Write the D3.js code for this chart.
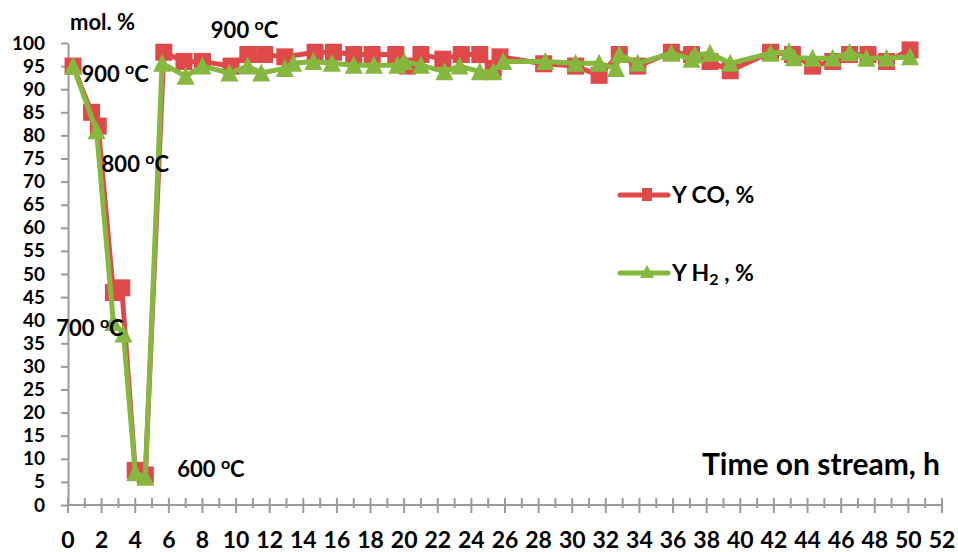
<!DOCTYPE html>
<html>
<head>
<meta charset="utf-8">
<script src="https://cdn.jsdelivr.net/npm/d3@7"></script>
<style>
  html, body { margin: 0; padding: 0; background: #fff; }
  svg text { font-family: Lato, "Open Sans", sans-serif; font-weight: 700; fill: #000; }
</style>
</head>
<body>
<svg id="chart" width="958" height="552"></svg>
<script>
// Yield of CO over time on stream (h)
const coTime  = [0.3, 1.4, 1.8, 2.7, 3.2, 4.0, 4.6, 5.7, 6.9, 8.0, 9.7, 10.7, 11.7, 12.9, 14.7, 15.8, 17.0, 18.1, 19.5, 20.2, 21.0, 22.3, 23.4, 24.5, 25.3, 25.7, 28.3, 30.2, 31.6, 32.8, 33.9, 35.9, 37.1, 38.2, 39.4, 41.8, 43.1, 44.3, 45.5, 46.5, 47.6, 48.7, 50.1];
const coYield = [95, 85, 82, 46, 47, 7.5, 6.5, 98, 96, 96, 95, 97.5, 97.5, 97, 98, 98, 97.5, 97.5, 97.5, 95, 97.5, 96.5, 97.5, 97.5, 94.5, 97, 95.5, 95, 93, 97.5, 95, 98, 97.5, 96, 94, 98, 97.5, 95, 96, 97.5, 97.5, 96, 98.5];

// Yield of H2 over time on stream (h)
const h2Time  = [0.3, 1.7, 2.7, 3.3, 4.0, 4.6, 5.6, 7.0, 8.0, 9.6, 10.7, 11.5, 12.9, 13.4, 14.6, 15.7, 17.0, 18.2, 19.6, 20.0, 21.0, 22.4, 23.3, 24.5, 25.3, 25.9, 28.4, 30.2, 31.6, 32.6, 32.8, 33.9, 35.9, 37.1, 37.3, 38.2, 39.4, 41.8, 42.9, 43.2, 44.3, 45.5, 46.5, 47.5, 48.7, 50.1];
const h2Yield = [95, 81, 39.5, 37, 7, 6, 95.6, 92.8, 95, 93.5, 95, 93.5, 94.5, 95.6, 96, 95.6, 95.2, 95.2, 95.2, 96, 95.2, 93.8, 95, 93.8, 93.8, 96, 96, 95.6, 95.6, 94.5, 97.5, 95.6, 97.8, 96.5, 97.4, 97.8, 95.6, 97.8, 98.1, 96.8, 96.7, 96.7, 97.9, 96.7, 96.7, 97];

const xTicks = d3.range(0, 53, 2);
const yTicks = d3.range(0, 101, 5);

// Temperature annotations: [time, yield, text]
const tempNotes = [
  [0.8, 91.5, "900 "],
  [8.5, 101, "900 "],
  [2.0, 72, "800 "],
  [-0.7, 36.5, "700 "],
  [6.5, 6, "600 "]
];

const series = [
  { name: "CO", time: coTime, values: coYield, color: "#E0494A", marker: "square" },
  { name: "H2", time: h2Time, values: h2Yield, color: "#86B73F", marker: "triangle" }
];

const svg = d3.select("#chart");
const x = d3.scaleLinear().domain([0, 52]).range([68, 942]);
const y = d3.scaleLinear().domain([0, 100]).range([505, 43]);
const axisColor = "#9a9a9a";

// Y axis
const yAxis = svg.append("g").attr("transform", `translate(${x(0)},0)`)
  .call(d3.axisLeft(y).tickValues(yTicks).tickSize(7).tickPadding(16).tickSizeOuter(0));
yAxis.select(".domain").attr("stroke", axisColor).attr("stroke-width", 2);
yAxis.selectAll(".tick line").attr("stroke", axisColor).attr("stroke-width", 2);
yAxis.selectAll(".tick text").style("font-size", "19px").style("font-family", "Lato, sans-serif").style("font-weight", 700).attr("fill", "#000");

// X axis: minor ticks every hour, major (crossing) every 2 h
const xg = svg.append("g");
xg.append("line").attr("x1", x(0)).attr("x2", x(52)).attr("y1", y(0)).attr("y2", y(0))
  .attr("stroke", axisColor).attr("stroke-width", 2);
xg.selectAll("line.minor").data(d3.range(1, 52, 2)).join("line").attr("class", "minor")
  .attr("x1", d => x(d)).attr("x2", d => x(d)).attr("y1", y(0) - 7).attr("y2", y(0) + 3)
  .attr("stroke", axisColor).attr("stroke-width", 2);
xg.selectAll("line.major").data(xTicks).join("line").attr("class", "major")
  .attr("x1", d => x(d)).attr("x2", d => x(d)).attr("y1", y(0) - 7).attr("y2", y(0) + 8)
  .attr("stroke", axisColor).attr("stroke-width", 2);
xg.selectAll("text").data(xTicks).join("text")
  .attr("x", d => x(d)).attr("y", 548).attr("text-anchor", "middle")
  .style("font-size", "23px").text(d => d);

// Series lines and markers
const line = d3.line().x(d => x(d[0])).y(d => y(d[1]));

series.forEach(s => {
  const pts = s.time.map((t, i) => [t, s.values[i]]);
  svg.append("path").datum(pts).attr("d", line)
    .attr("fill", "none").attr("stroke", s.color).attr("stroke-width", 5).attr("stroke-linejoin", "round");
  const g = svg.append("g");
  if (s.marker === "square") {
    g.selectAll("rect").data(pts).join("rect")
      .attr("x", d => x(d[0]) - 8.5).attr("y", d => y(d[1]) - 8.5)
      .attr("width", 17).attr("height", 17).attr("fill", s.color);
  } else {
    g.selectAll("path").data(pts).join("path")
      .attr("d", "M0,-10.5L9,7.5L-9,7.5Z")
      .attr("transform", d => `translate(${x(d[0])},${y(d[1]) + 1})`)
      .attr("fill", s.color);
  }
});

// Axis captions
svg.append("text").attr("x", 70).attr("y", 30).style("font-size", "22px").text("mol. %");
svg.append("text").attr("x", 940).attr("y", 475).attr("text-anchor", "end")
  .style("font-size", "30px").text("Time on stream, h");

// Temperature annotations with superscript degree "o"
tempNotes.forEach(([t, v, label]) => {
  const txt = svg.append("text").attr("x", x(t)).attr("y", y(v)).style("font-size", "22px");
  txt.append("tspan").text(label);
  txt.append("tspan").attr("dy", -8).style("font-size", "16px").text("o");
  txt.append("tspan").attr("dy", 8).text("C");
});

// Legend
const legend = svg.append("g");
const legendRows = [
  { s: series[0], yy: 195, label: ["Y CO, %"] },
  { s: series[1], yy: 273, label: ["Y H", "2", " , %"] }
];
legendRows.forEach(r => {
  legend.append("line").attr("x1", 620).attr("x2", 668).attr("y1", r.yy).attr("y2", r.yy)
    .attr("stroke", r.s.color).attr("stroke-width", 5).attr("stroke-linecap", "round");
  if (r.s.marker === "square") {
    legend.append("rect").attr("x", 642).attr("y", r.yy - 7).attr("width", 10).attr("height", 13).attr("fill", r.s.color);
  } else {
    legend.append("path").attr("d", "M0,-8L7,5L-7,5Z").attr("transform", `translate(647,${r.yy})`).attr("fill", r.s.color);
  }
  const t = legend.append("text").attr("x", 672).attr("y", r.yy + 8).style("font-size", "23px");
  t.append("tspan").text(r.label[0]);
  if (r.label.length > 1) {
    t.append("tspan").attr("dy", 4).style("font-size", "16px").text(r.label[1]);
    t.append("tspan").attr("dy", -4).text(r.label[2]);
  }
});
</script>
</body>
</html>
